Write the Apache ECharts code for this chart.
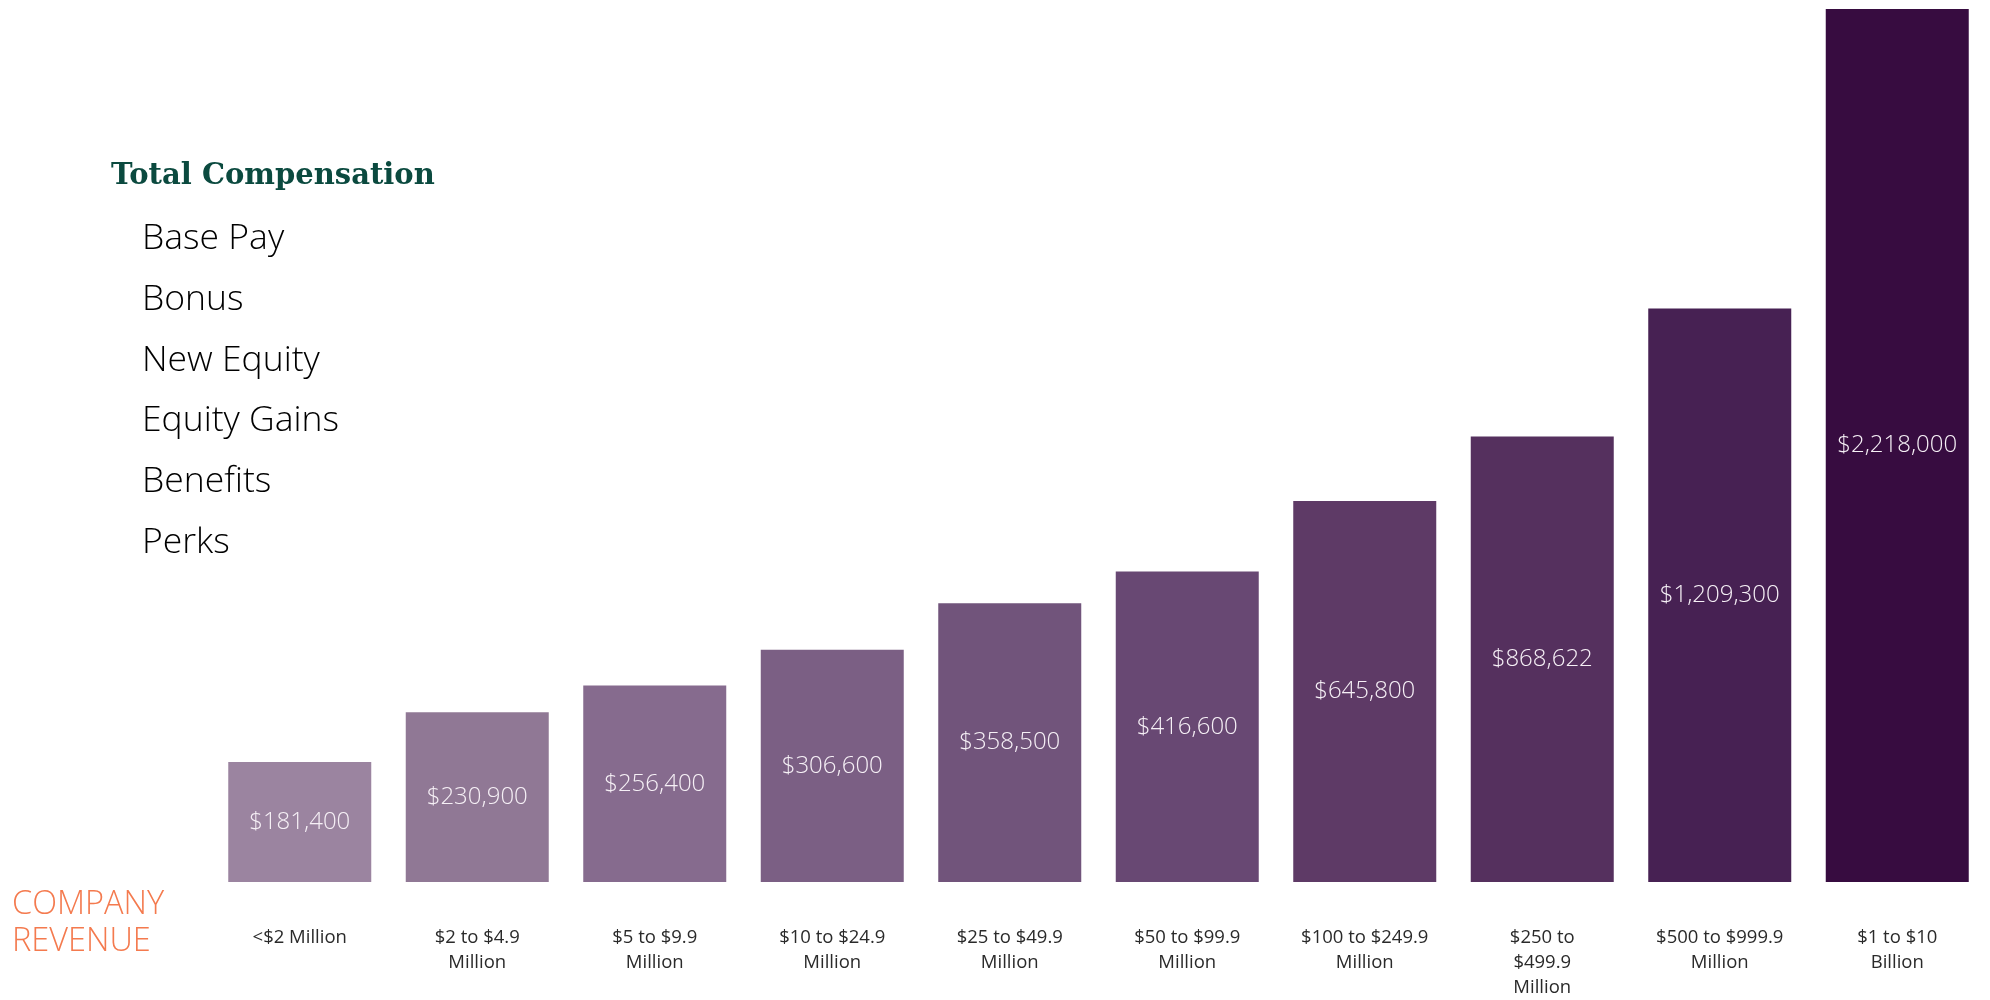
<!DOCTYPE html>
<html>
<head>
<meta charset="utf-8">
<script src="https://cdn.jsdelivr.net/npm/echarts@6/dist/echarts.min.js"></script>
<style>
html,body{margin:0;padding:0;background:#fff;}
#chart{width:1990px;height:1000px;}
</style>
</head>
<body>
<div id="chart"></div>
<script>
// Revenue categories (x axis)
const categories = [
  '<$2 Million',
  '$2 to $4.9\nMillion',
  '$5 to $9.9\nMillion',
  '$10 to $24.9\nMillion',
  '$25 to $49.9\nMillion',
  '$50 to $99.9\nMillion',
  '$100 to $249.9\nMillion',
  '$250 to\n$499.9\nMillion',
  '$500 to $999.9\nMillion',
  '$1 to $10\nBillion'
];
// Total compensation values (shown as labels)
const compValues = [181400, 230900, 256400, 306600, 358500, 416600, 645800, 868622, 1209300, 2218000];
// Drawn bar heights (the graphic is not to scale)
const barHeights = [121, 171, 198, 234, 281, 313, 384, 449, 578, 880];
// Bar fill colours
const barColors = ['#9b84a0', '#907895', '#866b8e', '#7b5f84', '#71547b', '#684873', '#5e3a66', '#55305e', '#472153', '#370c40'];
// Side text
const titleText = 'Total Compensation';
const legendItems = ['Base Pay', 'Bonus', 'New Equity', 'Equity Gains', 'Benefits', 'Perks'];
const axisTitle = 'COMPANY\nREVENUE';

const FONT = "'Open Sans', Lato, 'Noto Sans', sans-serif";
const fmt = v => '$' + v.toLocaleString('en-US');

const chart = echarts.init(document.getElementById('chart'), null, {renderer: 'canvas'});

const legendGraphics = legendItems.map((t, i) => ({
  type: 'text',
  left: 142,
  top: 221 + i * 60.7,
  style: {
    text: t,
    font: '300 35.5px ' + FONT,
    fill: '#000000'
  }
}));

chart.setOption({
  backgroundColor: '#ffffff',
  animation: false,
  title: {
    text: titleText,
    left: 106,
    top: 157,
    textStyle: {
      fontFamily: "'DejaVu Serif', serif",
      fontWeight: 'bold',
      fontSize: 29,
      color: '#0b4a3f'
    }
  },
  grid: {left: 211, right: 4, top: 0, bottom: 111, containLabel: false},
  xAxis: {
    type: 'category',
    data: categories,
    axisLine: {show: false},
    axisTick: {show: false},
    axisLabel: {
      interval: 0,
      margin: 43,
      fontFamily: FONT,
      fontWeight: 400,
      fontSize: 18.5,
      lineHeight: 25,
      color: '#2a2a2a',
      verticalAlign: 'top'
    }
  },
  yAxis: {
    type: 'value',
    min: 0,
    max: 889,
    show: false,
    splitLine: {show: false}
  },
  series: [{
    type: 'bar',
    barWidth: 143,
    data: barHeights.map((h, i) => ({
      value: h,
      itemStyle: {color: barColors[i]},
      label: {formatter: fmt(compValues[i])}
    })),
    label: {
      show: true,
      position: 'inside',
      fontFamily: FONT,
      fontWeight: 300,
      fontSize: 24,
      color: '#f6f0f6'
    }
  }],
  graphic: [
    ...legendGraphics,
    {
      type: 'text',
      left: 12,
      top: 886,
      style: {
        text: axisTitle,
        font: '300 32.5px ' + FONT,
        lineHeight: 37,
        fill: '#f47a4e'
      }
    }
  ]
});
</script>
</body>
</html>
